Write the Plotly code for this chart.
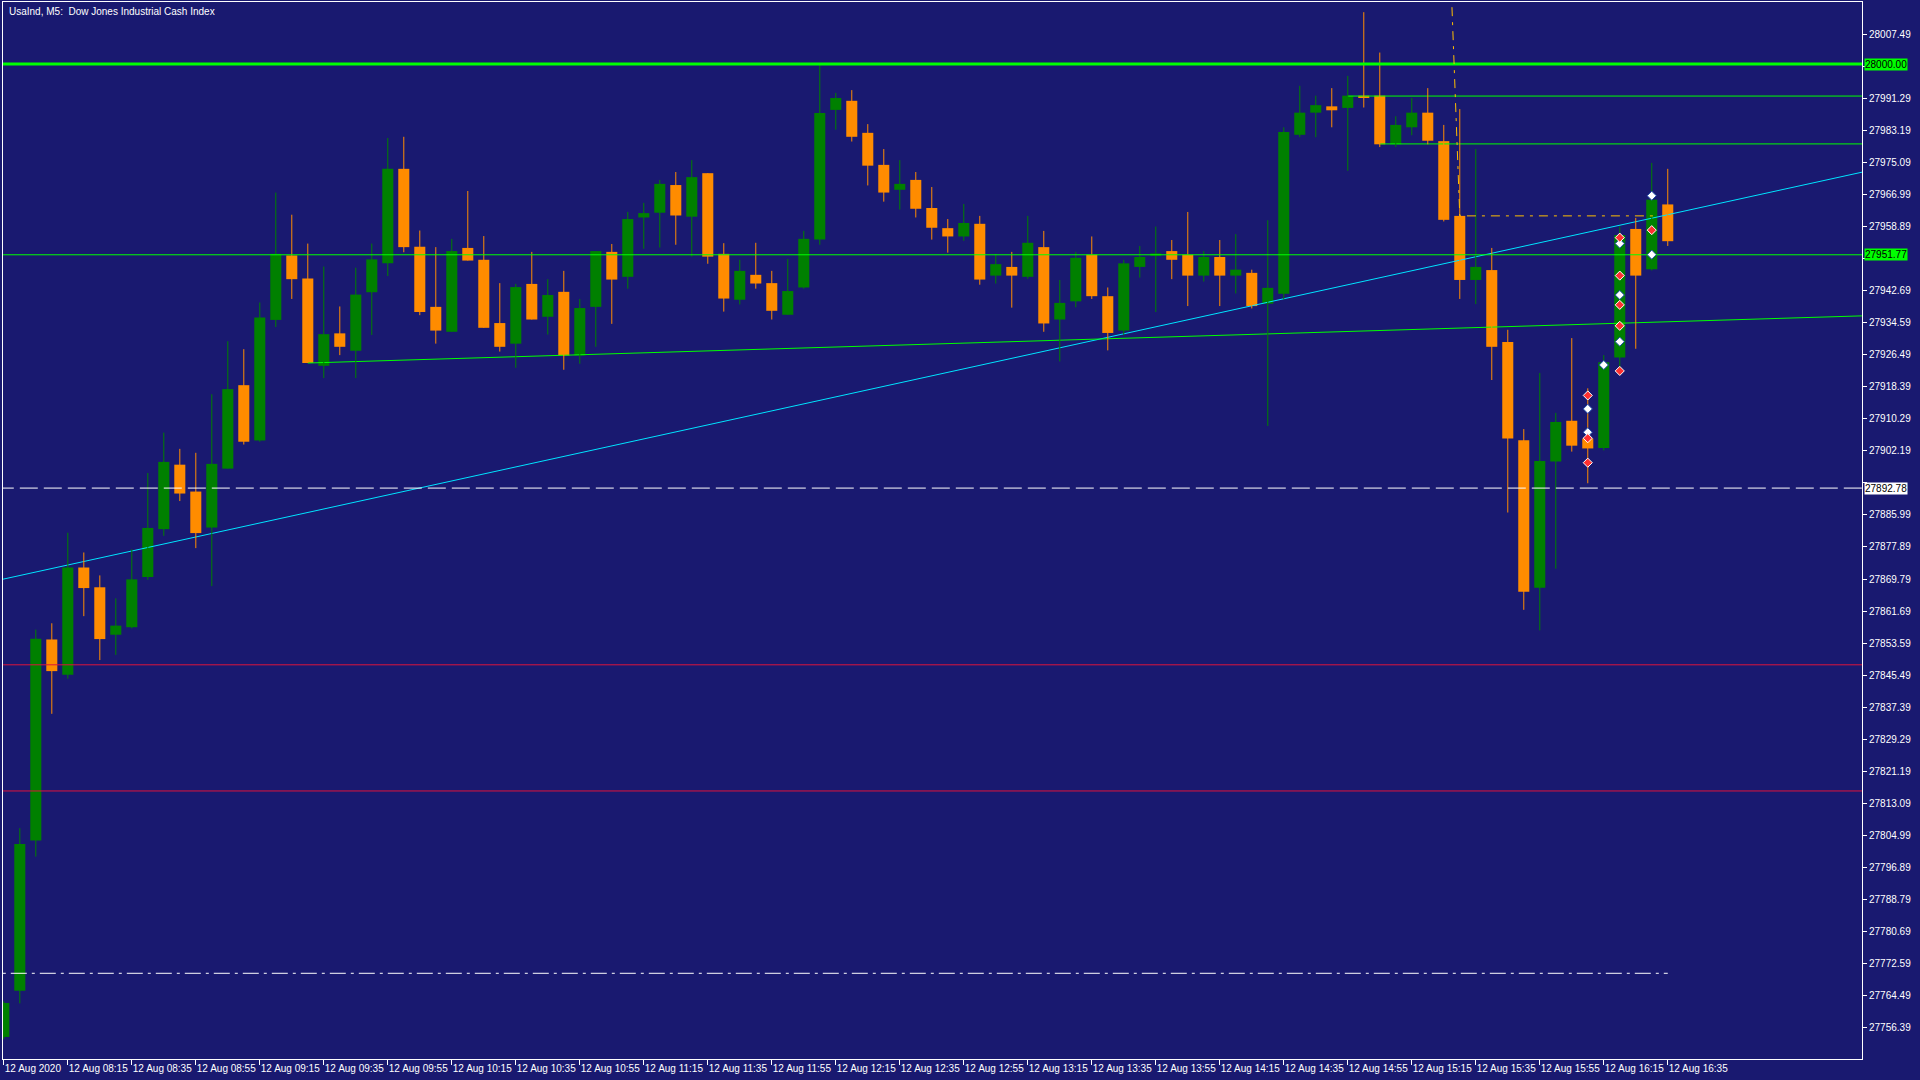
import plotly.graph_objects as go

# UsaInd M5, 12 Aug 2020, bars 07:55 .. 16:35
opens = [27754.0, 27765.7, 27803.7, 27854.5, 27845.6, 27872.7, 27867.7, 27855.7, 27857.6, 27870.3,
         27882.4, 27898.7, 27891.9, 27882.8, 27897.7, 27918.8, 27904.8, 27935.3, 27951.6, 27945.8,
         27923.7, 27931.9, 27927.5, 27942.3, 27949.6, 27973.5, 27953.8, 27938.6, 27932.3, 27953.5,
         27950.5, 27934.5, 27929.3, 27944.4, 27936.1, 27942.4, 27926.3, 27938.6, 27952.5, 27946.2,
         27961.2, 27962.4, 27969.4, 27961.4, 27972.4, 27952.0, 27940.4, 27946.7, 27944.6, 27936.6,
         27943.5, 27955.6, 27988.4, 27990.7, 27982.6, 27974.5, 27968.2, 27970.7, 27963.6, 27958.5,
         27956.4, 27959.6, 27946.5, 27948.7, 27946.2, 27953.7, 27935.4, 27940.0, 27951.8, 27941.3,
         27932.6, 27948.7, 27951.5, 27952.7, 27951.8, 27946.5, 27951.2, 27946.5, 27947.2, 27939.4,
         27941.9, 27982.1, 27987.7, 27989.3, 27988.9, 27992.0, 27992.0, 27979.7, 27984.0, 27987.7,
         27980.5, 27961.6, 27945.4, 27947.9, 27929.7, 27904.9, 27867.6, 27899.5, 27909.8, 27905.3,
         27902.9, 27925.8, 27958.3, 27948.1, 27964.5]
highs = [27763.0, 27806.8, 27857.0, 27858.6, 27881.5, 27876.5, 27870.7, 27864.9, 27877.3, 27896.6,
         27906.8, 27902.7, 27901.7, 27916.5, 27929.9, 27927.9, 27939.7, 27967.5, 27961.9, 27954.6,
         27948.8, 27938.7, 27948.5, 27954.6, 27981.3, 27981.6, 27957.9, 27953.7, 27955.8, 27967.9,
         27956.5, 27944.6, 27944.4, 27952.5, 27945.6, 27947.7, 27940.6, 27952.7, 27954.5, 27962.6,
         27964.9, 27970.7, 27972.7, 27975.7, 27972.4, 27954.7, 27950.5, 27954.8, 27947.7, 27950.7,
         27957.8, 27999.8, 27992.7, 27993.4, 27984.8, 27978.5, 27975.7, 27972.7, 27968.9, 27960.8,
         27964.6, 27961.6, 27952.0, 27952.5, 27961.6, 27957.8, 27945.4, 27952.5, 27956.4, 27943.5,
         27950.5, 27954.0, 27958.9, 27955.5, 27962.6, 27952.7, 27955.5, 27957.0, 27948.0, 27960.5,
         27984.0, 27994.5, 27992.0, 27993.9, 27997.0, 28013.1, 28002.9, 27986.8, 27991.4, 27993.9,
         27984.6, 27988.6, 27978.5, 27953.5, 27932.8, 27907.7, 27921.9, 27911.8, 27930.7, 27918.0,
         27926.4, 27958.9, 27961.1, 27975.0, 27973.5]
lows = [27753.5, 27762.5, 27799.6, 27835.7, 27844.6, 27860.4, 27849.3, 27850.6, 27857.3, 27869.6,
        27880.7, 27889.5, 27877.6, 27868.0, 27897.7, 27903.8, 27904.5, 27933.5, 27940.6, 27924.4,
        27920.6, 27926.4, 27920.6, 27931.5, 27946.4, 27952.4, 27936.5, 27929.3, 27932.3, 27950.3,
        27933.3, 27927.3, 27923.2, 27935.4, 27931.6, 27922.7, 27924.2, 27928.5, 27934.3, 27943.2,
        27953.3, 27953.6, 27954.3, 27951.3, 27949.5, 27937.4, 27939.2, 27943.2, 27935.4, 27936.6,
        27943.2, 27954.3, 27983.4, 27980.4, 27969.3, 27965.2, 27963.2, 27961.2, 27955.6, 27952.3,
        27955.3, 27944.2, 27944.5, 27938.4, 27945.7, 27932.3, 27924.8, 27938.5, 27940.6, 27927.6,
        27931.5, 27946.0, 27937.3, 27945.6, 27938.8, 27945.0, 27938.8, 27942.0, 27938.2, 27908.5,
        27940.5, 27981.5, 27981.5, 27984.0, 27973.0, 27989.0, 27979.0, 27979.0, 27982.0, 27979.7,
        27960.2, 27940.6, 27939.3, 27920.1, 27886.6, 27862.0, 27856.8, 27872.4, 27902.0, 27894.0,
        27902.3, 27921.8, 27928.0, 27947.8, 27954.0]
closes = [27762.6, 27802.8, 27854.7, 27846.5, 27872.7, 27867.5, 27854.6, 27858.0, 27869.7, 27882.7,
          27899.4, 27891.4, 27881.4, 27898.9, 27917.8, 27904.5, 27935.9, 27952.0, 27945.6, 27924.4,
          27931.7, 27928.5, 27941.7, 27950.6, 27973.5, 27953.7, 27937.3, 27932.6, 27952.7, 27950.3,
          27933.3, 27928.5, 27943.6, 27935.4, 27941.6, 27926.3, 27938.3, 27952.7, 27945.5, 27960.8,
          27962.3, 27969.7, 27961.7, 27971.4, 27951.3, 27940.7, 27947.7, 27944.5, 27937.6, 27942.6,
          27955.8, 27987.6, 27991.4, 27981.6, 27974.3, 27967.5, 27969.7, 27963.4, 27958.6, 27956.4,
          27959.8, 27945.5, 27949.4, 27946.5, 27954.8, 27934.4, 27939.6, 27951.0, 27941.3, 27932.0,
          27949.6, 27951.2, 27952.1, 27950.5, 27946.5, 27951.2, 27946.5, 27948.0, 27938.8, 27943.4,
          27982.8, 27987.7, 27989.6, 27988.3, 27992.0, 27991.4, 27979.7, 27984.6, 27987.7, 27980.6,
          27960.6, 27945.4, 27948.7, 27928.5, 27905.3, 27866.6, 27899.6, 27909.5, 27903.5, 27902.8,
          27924.6, 27956.8, 27946.5, 27965.7, 27955.2]

tick_bars = list(range(0, 105, 4))
tick_labels = ["12 Aug 2020", "12 Aug 08:15", "12 Aug 08:35", "12 Aug 08:55", "12 Aug 09:15",
               "12 Aug 09:35", "12 Aug 09:55", "12 Aug 10:15", "12 Aug 10:35", "12 Aug 10:55",
               "12 Aug 11:15", "12 Aug 11:35", "12 Aug 11:55", "12 Aug 12:15", "12 Aug 12:35",
               "12 Aug 12:55", "12 Aug 13:15", "12 Aug 13:35", "12 Aug 13:55", "12 Aug 14:15",
               "12 Aug 14:35", "12 Aug 14:55", "12 Aug 15:15", "12 Aug 15:35", "12 Aug 15:55",
               "12 Aug 16:15", "12 Aug 16:35"]
price_ticks = [28007.49, 27999.39, 27991.29, 27983.19, 27975.09, 27966.99, 27958.89, 27950.79,
               27942.69, 27934.59, 27926.49, 27918.39, 27910.29, 27902.19, 27894.09, 27885.99,
               27877.89, 27869.79, 27861.69, 27853.59, 27845.49, 27837.39, 27829.29, 27821.19,
               27813.09, 27804.99, 27796.89, 27788.79, 27780.69, 27772.59, 27764.49, 27756.39]
# scale labels that sit under the price boxes
covered_ticks = [27999.39, 27950.79, 27894.09]

# drawn objects
level_28000 = 28000.00
level_mid = 27951.77
level_bid = 27892.78
level_res1, res1_from = 27991.9, 84
level_res2, res2_from = 27979.8, 86
red_levels = [27848.1, 27816.2]
level_low, low_to = 27770.1, 104
cyan_x, cyan_y = [-1, 118], [27868.9, 27974.3]
trend_x, trend_y = [19, 118], [27924.4, 27936.55]
fibo_x, fibo_y = [90.4, 91.0, 103.1], [28026.5, 27961.6, 27961.6]

white_mx = [99, 99, 100, 101, 101, 101, 103, 103]
white_my = [27912.8, 27906.9, 27923.9, 27954.6, 27941.6, 27929.8, 27966.7, 27951.8]
red_mx = [99, 99, 99, 101, 101, 101, 101, 101, 103]
red_my = [27916.2, 27905.4, 27899.2, 27956.1, 27946.5, 27939.1, 27933.8, 27922.4, 27958.0]

BG = "#191970"
BULL = "#008000"
BEAR = "#FF8C00"
LIME = "#00FF00"
FONT = "Liberation Sans"

idx = list(range(len(opens)))
X0, X1 = -0.05, 116.14

fig = go.Figure()

def hline(x0, x1, y, color, width=1, dash="solid"):
    fig.add_trace(go.Scatter(x=[x0, x1], y=[y, y], mode="lines", hoverinfo="skip",
                             line=dict(color=color, width=width, dash=dash)))

# background objects
fig.add_trace(go.Scatter(x=cyan_x, y=cyan_y, mode="lines", hoverinfo="skip", line=dict(color="#00E5FF", width=1)))
fig.add_trace(go.Scatter(x=trend_x, y=trend_y, mode="lines", hoverinfo="skip", line=dict(color=LIME, width=1)))
hline(res1_from, 130, level_res1, LIME)
hline(res2_from, 130, level_res2, LIME)

# wicks
for col, cond in ((BULL, lambda o, c: c >= o), (BEAR, lambda o, c: c < o)):
    wx, wy = [], []
    for i in idx:
        if cond(opens[i], closes[i]):
            wx += [i, i, None]
            wy += [lows[i], highs[i], None]
    fig.add_trace(go.Scatter(x=wx, y=wy, mode="lines", hoverinfo="skip", line=dict(color=col, width=1)))

# bodies
base = [min(o, c) for o, c in zip(opens, closes)]
height = [max(abs(c - o), 0.3) for o, c in zip(opens, closes)]
colors = [BULL if c >= o else BEAR for o, c in zip(opens, closes)]
fig.add_trace(go.Bar(x=idx, y=height, base=base, width=0.69, hoverinfo="skip",
                     marker=dict(color=colors, line=dict(width=0))))

# foreground objects
hline(-5, 130, level_28000, LIME, width=3)
hline(-5, 130, level_mid, LIME)
for lv in red_levels:
    hline(-5, 130, lv, "#DC143C")
hline(-5, 130, level_bid, "white", dash="18px,6px")
hline(-5, low_to, level_low, "white", dash="16px,5px,3px,5px")
fig.add_trace(go.Scatter(x=fibo_x, y=fibo_y, mode="lines", hoverinfo="skip",
                         line=dict(color="#FFBF00", width=1, dash="9px,6px,3px,6px")))

fig.add_trace(go.Scatter(x=white_mx, y=white_my, mode="markers", hoverinfo="skip",
                         marker=dict(symbol="diamond", size=7, color="white", line=dict(color="#1E4AA8", width=1))))
fig.add_trace(go.Scatter(x=red_mx, y=red_my, mode="markers", hoverinfo="skip",
                         marker=dict(symbol="diamond", size=7, color="#FF3030", line=dict(color="white", width=1))))

# price boxes on the right scale
for lv, bg in ((level_28000, LIME), (level_mid, LIME), (level_bid, "white")):
    fig.add_annotation(x=1, xref="paper", xanchor="left", xshift=2, y=lv, yref="y",
                       text="%.2f" % lv, showarrow=False, bgcolor=bg, borderpad=0,
                       font=dict(family=FONT, size=10, color="black"))

fig.add_annotation(x=0, xref="paper", xanchor="left", xshift=4, y=1, yref="paper", yanchor="top", yshift=-2,
                   text="UsaInd, M5:&nbsp; Dow Jones Industrial Cash Index", showarrow=False,
                   font=dict(family=FONT, size=10, color="white"))

ytext = ["" if v in covered_ticks else "%.2f" % v for v in price_ticks]

fig.update_layout(width=1920, height=1080, paper_bgcolor=BG, plot_bgcolor=BG, showlegend=False,
                  barmode="overlay", margin=dict(l=3, r=58, t=2, b=21, pad=0),
                  font=dict(family=FONT, size=10, color="white"))
fig.update_xaxes(range=[X0, X1], tickvals=tick_bars, ticktext=tick_labels, ticks="outside", ticklen=5,
                 tickcolor="white", tickangle=0, ticklabelposition="outside right", automargin=False,
                 showgrid=False, zeroline=False, showline=True, linecolor="white", linewidth=1, mirror=True)
fig.update_yaxes(range=[27748.43, 28015.68], side="right", tickvals=price_ticks, automargin=False,
                 ticktext=ytext, ticks="outside", ticklen=4, tickcolor="white",
                 showgrid=False, zeroline=False, showline=True, linecolor="white", linewidth=1, mirror=True)

fig.write_html("out.html", config={"displayModeBar": False},
               post_script="document.body.style.margin='0';")
